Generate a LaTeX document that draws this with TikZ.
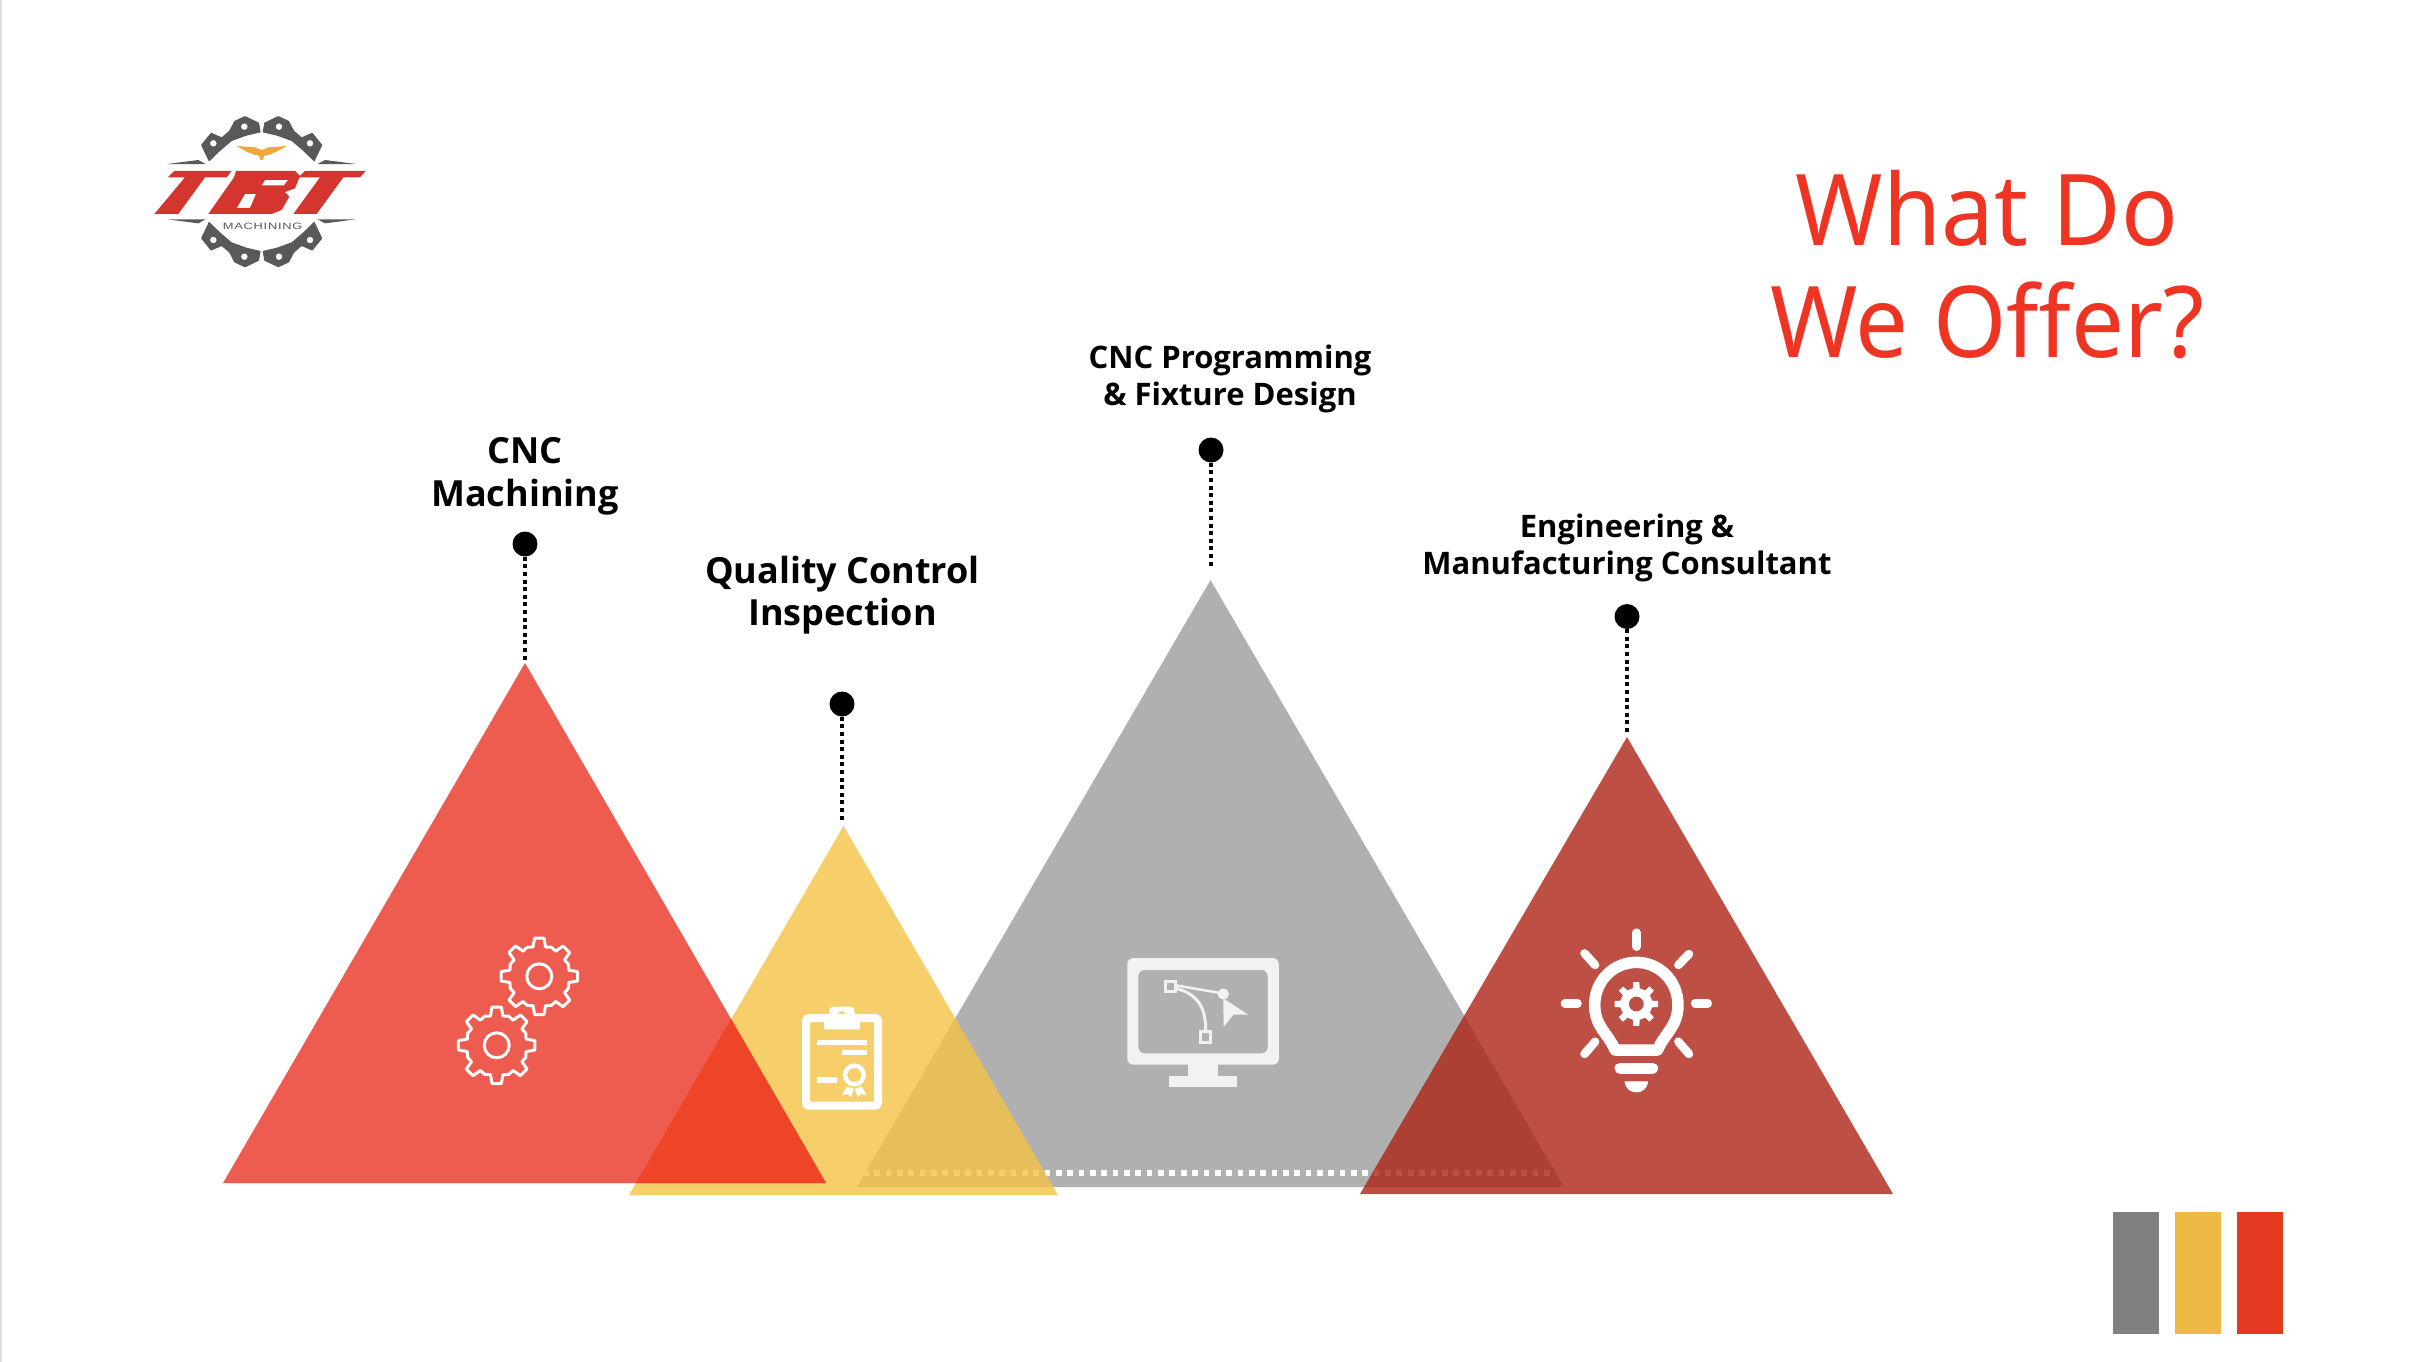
\documentclass[tikz,border=0pt]{standalone}
\usepackage{fontspec}
\setmainfont{Noto Sans}
\newfontfamily\lblfont{Open Sans}
\newfontfamily\logofont[FakeStretch=1.4,LetterSpace=8]{Liberation Sans}
\definecolor{cRed}{HTML}{E93424}
\definecolor{cYel}{HTML}{F4C346}
\definecolor{cSwYel}{HTML}{EDB945}
\definecolor{cGry}{HTML}{808080}
\definecolor{cSwRed}{HTML}{E53A22}
\definecolor{cBrn}{HTML}{AD2416}
\definecolor{cOver}{HTML}{EE4529}
\definecolor{cTitle}{HTML}{EE3524}
\definecolor{cLogoRed}{HTML}{D5352F}
\definecolor{cLogoGry}{HTML}{58595B}
\definecolor{cLogoOr}{HTML}{F0A83C}
\definecolor{cIcon}{HTML}{F2F2F2}
\tikzset{
  tri/.style={draw=none,fill opacity=#1},
  pin/.style={circle,fill=black,draw=none,minimum size=25pt,inner sep=0pt},
  pinline/.style={line width=4pt,black,dash pattern=on 4pt off 3.6pt},
  lblbig/.style={align=center,inner sep=0pt,font=\lblfont\bfseries\fontsize{36}{42.6}\selectfont},
  lblsmall/.style={align=center,inner sep=0pt,font=\lblfont\bfseries\fontsize{31}{36.4}\selectfont},
  whitedots/.style={line width=6pt,white,dash pattern=on 5.7pt off 5.65pt},
  zoomlogo/.style={shift={(130,90)},x=.33333pt,y=-.33333pt},
  zoomA/.style={shift={(430,900)},x=.33333pt,y=-.33333pt},
  zoomB/.style={shift={(1100,930)},x=.40816pt,y=-.33333pt},
  iconline/.style={white,line width=3pt,line join=round},
  ray/.style={white,line width=8.5pt,line cap=round},
}
\newcommand{\gearicon}[2]{%
  \begin{scope}[shift={(#1,#2)}]
    \draw[iconline] (-12:30)
      \foreach \a in {0,45,...,315} { -- (\a-12:30) -- (\a-7:38.5) -- (\a+7:38.5) -- (\a+12:30) -- (\a+22.5:31.5) }
      -- cycle;
    \draw[iconline] (0,0) circle[radius=12.5];
  \end{scope}}
\newcommand{\gearpiece}{%
  \fill[cLogoGry,even odd rule,rounded corners=.6pt]
    (-158,-90) -- (-182,-140) -- (-152,-177) -- (-120,-163) -- (-97,-183) -- (-82,-212)
    -- (-50,-227) -- (-8,-207) -- (-3,-178) -- (-46,-168) -- (-90,-152) -- (-125,-122) -- cycle
    (-145,-145) circle[radius=10] (-52,-195) circle[radius=10];
  \fill[cLogoGry] (-283,-83) -- (-190,-95) -- (-168,-83) -- cycle;}
\begin{document}
\begin{tikzpicture}[x=1pt,y=-1pt]
\useasboundingbox (0,0) rectangle (2426,1362);
\fill[white] (0,0) rectangle (2426,1362);
\fill[black!12] (0,0) rectangle (1.5,1362);

% triangles
\fill[cGry,tri=.62] (857,1187) -- (1210.5,580) -- (1564,1187) -- cycle;
\draw[whitedots] (863,1173) -- (1553,1173);
\fill[cYel,tri=.8] (629,1195) -- (843.5,826) -- (1058,1195) -- cycle;
\fill[cRed,tri=.8] (223,1183) -- (525,663) -- (826,1183) -- cycle;
\begin{scope}
  \clip (629,1195) -- (843.5,826) -- (1058,1195) -- cycle;
  \fill[cOver] (223,1183) -- (525,663) -- (826,1183) -- cycle;
\end{scope}
\fill[cBrn,tri=.8] (1360,1194) -- (1627,737) -- (1893,1194) -- cycle;

% pins
\node[pin] (pinA) at (525,544) {};
\node[pin] (pinB) at (842,704) {};
\node[pin] (pinC) at (1211,450) {};
\node[pin] (pinD) at (1627,616.5) {};
\coordinate (endA) at (525,660);
\coordinate (endB) at (842,821);
\coordinate (endC) at (1211,566);
\coordinate (endD) at (1627,733);
\draw[pinline] (pinA) -- (endA);
\draw[pinline] (pinB) -- (endB);
\draw[pinline] (pinC) -- (endC);
\draw[pinline] (pinD) -- (endD);

% labels
\node[lblbig] (lA) at (525,476) {CNC\\Machining};
\node[lblbig] (lB) at (842.5,595) {Quality Control\\Inspection};
\node[lblsmall] (lC) at (1230,379) {CNC Programming\\\& Fixture Design};
\node[lblsmall] (lD) at (1627,548) {Engineering \&\\Manufacturing Consultant};

% title
\node[cTitle,align=center,inner sep=0pt,font=\fontsize{99}{112}\selectfont,xscale=.95,transform shape] (title) at (1987,265) {What Do\\We Offer?};

% swatches
\fill[cGry] (2113,1212) rectangle (2159,1334);
\fill[cSwYel] (2175,1212) rectangle (2221,1334);
\fill[cSwRed] (2237,1212) rectangle (2283,1334);

% gears icon
\gearicon{539.3}{976.3}
\gearicon{496.7}{1045.3}

% clipboard icon
\begin{scope}[zoomA]
  \draw[white,line width=8pt,rounded corners=3pt] (1128,354) rectangle (1344,617);
  \fill[white,even odd rule] (1182,388) -- (1182,345) -- (1198,345) -- (1198,335) .. controls (1198,324) and (1204,320) .. (1212,320)
     -- (1260,320) .. controls (1268,320) and (1274,324) .. (1274,335) -- (1274,345) -- (1290,345) -- (1290,388) -- cycle
     (1235,345) circle[radius=12];
  \fill[white] (1162,420) rectangle (1310,436);
  \fill[white] (1236,450) rectangle (1310,466);
  \fill[white] (1162,532) rectangle (1220,548);
  \draw[white,line width=4.5pt] (1273,525) circle[radius=28];
  \fill[white] (1250,560) -- (1236,586) -- (1254,582) -- (1262,592) -- (1272,566) -- cycle;
  \fill[white] (1296,560) -- (1310,586) -- (1292,582) -- (1284,592) -- (1274,566) -- cycle;
\end{scope}

% monitor icon
\begin{scope}[zoomB]
  \fill[cIcon,even odd rule,rounded corners=6pt] (67,84) rectangle (438,404) (94,120) rectangle (411,370);
  \fill[cIcon] (216,400) rectangle (289,438);
  \fill[cIcon] (169,438) rectangle (336,472);
  \draw[cIcon,line width=3pt] (160,153) rectangle (185,185);
  \draw[cIcon,line width=3pt] (245,304) rectangle (271,336);
  \draw[cIcon,line width=2.5pt] (185,166) -- (300,190);
  \draw[cIcon,line width=3pt] (188,176) .. controls (230,190) and (260,220) .. (259,304);
  \fill[cIcon] (302,192) ellipse[x radius=14,y radius=16];
  \fill[cIcon] (302,205) -- (363,254) -- (327,254) -- (303,290) -- cycle;
\end{scope}

% bulb icon
\begin{scope}[zoomB]
  \draw[ray] (1315,8) -- (1315,50);
  \draw[ray] (1139,220) -- (1170,220);
  \draw[ray] (1458,220) -- (1489,220);
  \draw[ray] (1187,70) -- (1213,105);
  \draw[ray] (1443,72) -- (1417,105);
  \draw[ray] (1187,372) -- (1213,335);
  \draw[ray] (1443,372) -- (1417,335);
  \draw[white,line width=11.5pt,line join=round]
    (1262,360) .. controls (1245,310) and (1212,290) .. (1212,225)
    .. controls (1212,150) and (1260,97) .. (1314,97)
    .. controls (1368,97) and (1416,150) .. (1416,225)
    .. controls (1416,290) and (1383,310) .. (1366,360) -- cycle;
  \draw[white,line width=11pt,line cap=round] (1274,415) -- (1354,415);
  \fill[white] (1285,454) -- (1343,454) .. controls (1340,478) and (1328,487) .. (1314,487) .. controls (1300,487) and (1288,478) .. (1285,454) -- cycle;
\end{scope}
\begin{scope}[shift={(1636.3,1004)}]
  \fill[white,even odd rule]
    (-12:16) \foreach \a in {0,45,...,315} { -- (\a-12:16) -- (\a-8:22) -- (\a+8:22) -- (\a+12:16) -- (\a+22.5:16) } -- cycle
    (0,0) circle[radius=7.5];
\end{scope}

% logo
\begin{scope}[shift={(261.67,191.67)},x=.33333pt,y=-.33333pt]
  \gearpiece
  \begin{scope}[xscale=-1]\gearpiece\end{scope}
  \begin{scope}[yscale=-1]\gearpiece\end{scope}
  \begin{scope}[xscale=-1,yscale=-1]\gearpiece\end{scope}
\end{scope}
\begin{scope}[zoomlogo]
  \fill[cLogoRed] (113,262) -- (133,243) -- (305,243) -- (290,262) -- (225,262) -- (145,372) -- (73,372) -- (165,262) -- cycle;
  \fill[cLogoRed,even odd rule] (318,243) -- (495,243) -- (510,258) -- (495,295) -- (465,306) -- (478,320) -- (455,360) -- (425,372) -- (235,372) -- (312,262) -- cycle
    (405,270) -- (474,270) -- (462,286) -- (395,286) -- cycle
    (345,312) -- (378,312) -- (360,354) -- (320,354) -- cycle;
  \fill[cLogoRed] (525,243) -- (707,243) -- (690,262) -- (640,262) -- (560,372) -- (490,372) -- (570,262) -- (505,262) -- cycle;
  \fill[cLogoOr] (320,168) -- (375,172) -- (395,180) -- (415,172) -- (470,168) -- (440,185) -- (415,195) -- (403,197) -- (398,210) -- (392,210) -- (387,197) -- (375,195) -- (350,185) -- cycle;
  \node[cLogoGry,inner sep=0pt,font=\logofont\fontsize{9.2}{10}\selectfont] (logotext) at (398,408) {MACHINING};
\end{scope}
\end{tikzpicture}
\end{document}
